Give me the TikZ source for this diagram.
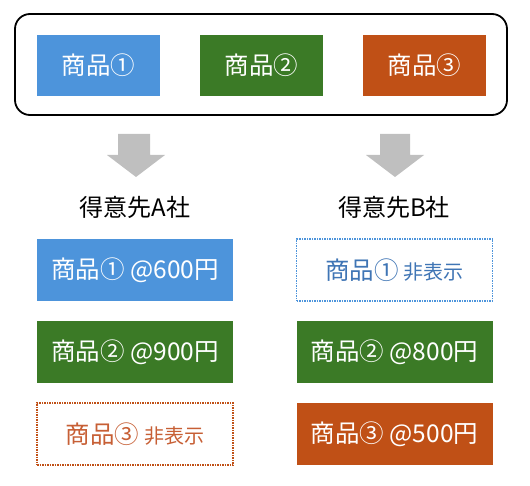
\documentclass[tikz,border=0pt]{standalone}
\usepackage{fontspec}
\setmainfont{Noto Sans CJK JP}
\definecolor{cblue}{HTML}{4D94DB}
\definecolor{cgreen}{HTML}{3B7A26}
\definecolor{corange}{HTML}{C05016}
\definecolor{tblue}{HTML}{3F75B5}
\definecolor{torange}{HTML}{C75F35}
\definecolor{agray}{HTML}{BFBFBF}
\begin{document}
\begin{tikzpicture}[x=1pt,y=-1pt,
  prod/.style={minimum width=123pt,minimum height=61pt,inner sep=0pt,text=white,font=\fontsize{24.5}{27}\selectfont},
  item/.style={minimum width=196pt,minimum height=62pt,inner sep=0pt,text=white,font=\fontsize{24.5}{27}\selectfont},
  hidden/.style={item,draw,densely dotted,line width=1.5pt,fill=white},
  lbl/.style={font=\fontsize{24}{27}\selectfont,text=black}]
\useasboundingbox (0,0) rectangle (530,486);
% outer frame
\draw[line width=1.8pt,rounded corners=15pt] (15,14) rectangle (507,115);
\node[prod,fill=cblue] (p1) at (98.5,65.5) {商品①};
\node[prod,fill=cgreen] (p2) at (261.5,65.5) {商品②};
\node[prod,fill=corange] (p3) at (424.5,65.5) {商品③};
% arrows
\fill[agray] (118,134) -- (150,134) -- (150,155) -- (165,155) -- (136,177) -- (107,155) -- (118,155) -- cycle;
\fill[agray] (380,134) -- (410,134) -- (410,155) -- (424,155) -- (395,177) -- (366,155) -- (380,155) -- cycle;
% labels
\node[lbl] (la) at (135,207) {得意先A社};
\node[lbl] (lb) at (394,207) {得意先B社};
% left column
\node[item,fill=cblue] (a1) at (135,270) {商品① @600円};
\node[item,fill=cgreen] (a2) at (135,352) {商品② @900円};
\node[hidden,draw=corange,text=torange] (a3) at (135,434) {商品③ {\fontsize{20}{22}\selectfont 非表示}};
% right column
\node[hidden,draw=cblue,text=tblue] (b1) at (394.5,270) {商品① {\fontsize{20}{22}\selectfont 非表示}};
\node[item,fill=cgreen] (b2) at (394.5,352) {商品② @800円};
\node[item,fill=corange] (b3) at (394.5,434) {商品③ @500円};
\end{tikzpicture}
\end{document}
